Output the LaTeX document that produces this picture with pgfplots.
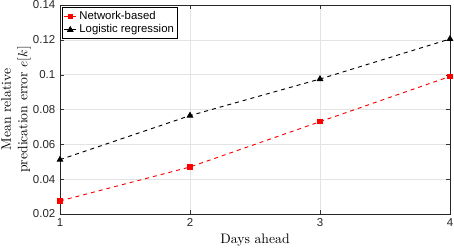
\documentclass[border=0pt]{standalone}
\usepackage{fontspec}
\newfontfamily\helv{Liberation Sans}
\usepackage{pgfplots}
\pgfplotsset{compat=1.18}
\usetikzlibrary{calc}
\begin{document}
\begin{tikzpicture}
\begin{axis}[
  name=ax,
  scale only axis,
  width=292.5pt, height=156.75pt,
  xmin=1, xmax=4, ymin=0.02, ymax=0.14,
  xtick={1,2,3,4},
  ytick={0.02,0.04,0.06,0.08,0.1,0.12,0.14},
  yticklabel style={/pgf/number format/fixed,/pgf/number format/precision=2},
  /pgf/number format/assume math mode=true,
  ticklabel style={font=\helv\fontsize{8.6}{10}\selectfont, text=black!85},
  tick align=inside,
  major tick length=3pt,
  tick style={black!80},
  grid=major,
  major grid style={gray!22, line width=0.5pt},
  axis line style={black!85, line width=0.6pt},
  xlabel={Days ahead},
  ylabel={Mean relative\\predication error $e[k]$},
  ylabel style={align=center, font=\fontsize{10.3}{12.5}\selectfont,
    at={($(axis description cs:0,0.5)+(-33pt,0)$)}, anchor=center},
  xlabel style={font=\fontsize{10.3}{12}\selectfont,
    at={($(axis description cs:0.5,0)+(0,-19.5pt)$)}, anchor=center},
  legend style={at={(0.006,0.99)}, anchor=north west, font=\helv\fontsize{8.5}{10}\selectfont,
    draw=black, line width=0.6pt, inner sep=0.8pt, row sep=-1.5pt, cells={anchor=west}},
  legend cell align=left,
  legend image code/.code={\draw[mark repeat=2,mark phase=2,#1] plot coordinates {(0pt,0pt) (4.5pt,0pt) (9pt,0pt)};},
]
\addplot[red, dashed, line width=0.7pt, mark=square*, mark size=1.6pt, mark options={solid}]
  coordinates {(1,0.0275) (2,0.047) (3,0.073) (4,0.099)};
\addlegendentry{Network-based}
\addplot[black, dashed, line width=0.7pt, mark=triangle*, mark size=2.3pt, mark options={solid}]
  coordinates {(1,0.0512) (2,0.0765) (3,0.0975) (4,0.1205)};
\addlegendentry{Logistic regression}
\end{axis}
\pgfresetboundingbox
\path (ax.south west) ++(-45pt,-25.5pt) rectangle ++(340.5pt,186pt);
\end{tikzpicture}
\end{document}
